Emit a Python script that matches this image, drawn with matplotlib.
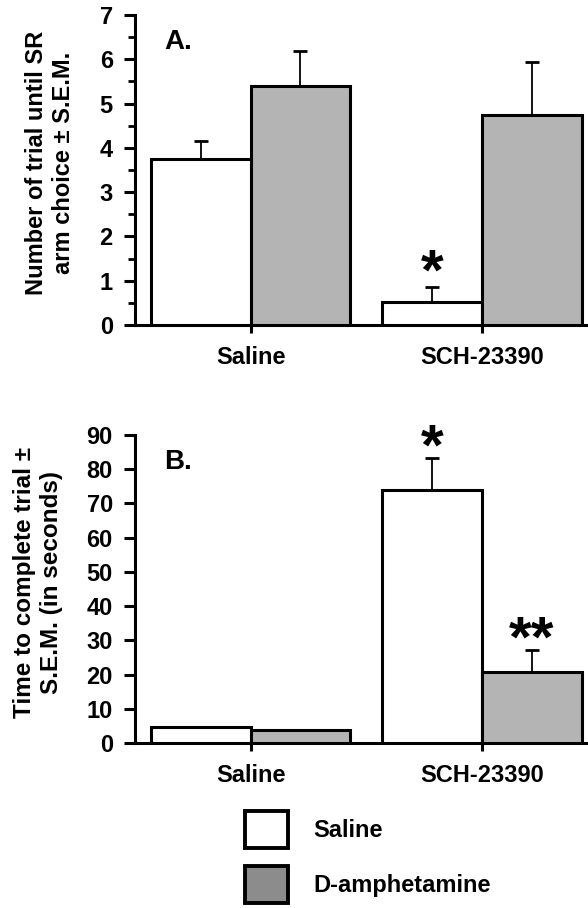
import numpy as np
import matplotlib
matplotlib.use("Agg")
import matplotlib.pyplot as plt
from matplotlib.patches import Patch

plt.rcParams['font.family'] = ['Liberation Sans', 'DejaVu Sans']
plt.rcParams['font.weight'] = 'bold'

groups = ["Saline", "SCH-23390"]
treatments = ["Saline", "D-amphetamine"]

# panel A: number of trials until SR arm choice
trials_mean = {"Saline": [3.75, 0.53], "D-amphetamine": [5.4, 4.75]}
trials_sem = {"Saline": [0.40, 0.33], "D-amphetamine": [0.78, 1.18]}
trials_stars = {"Saline": ["", "*"], "D-amphetamine": ["", ""]}

# panel B: time to complete trial (s)
time_mean = {"Saline": [4.8, 73.8], "D-amphetamine": [3.9, 20.7]}
time_sem = {"Saline": [0.0, 9.5], "D-amphetamine": [0.0, 6.5]}
time_stars = {"Saline": ["", "*"], "D-amphetamine": ["", "**"]}

colors = {"Saline": "white", "D-amphetamine": "#b4b4b4"}
legend_colors = {"Saline": "white", "D-amphetamine": "#8c8c8c"}

fig = plt.figure(figsize=(5.88, 9.08), dpi=100)
axA = fig.add_axes([135 / 588, 1 - 325 / 908, 453 / 588, 310 / 908])
axB = fig.add_axes([135 / 588, 1 - 743 / 908, 453 / 588, 308 / 908])

width = 0.432
x = np.arange(len(groups))


def draw_panel(ax, means, sems, stars, ymax, step, minor, star_gap):
    for k, t in enumerate(treatments):
        pos = x + (k - 0.5) * width
        ax.bar(pos, means[t], width, color=colors[t], edgecolor="black",
               linewidth=2.2, zorder=3)
        ax.errorbar(pos, means[t], yerr=[np.zeros(len(groups)), sems[t]],
                    fmt="none", ecolor="black", elinewidth=1.3, capsize=5,
                    capthick=2, zorder=2)
        for p, m, s, st in zip(pos, means[t], sems[t], stars[t]):
            if st:
                ax.text(p, m + s + star_gap, st, ha="center", va="center",
                        fontsize=42, fontweight="bold")
    ax.set_xlim(-0.5, 1.46)
    ax.set_ylim(0, ymax)
    ax.set_yticks(np.arange(0, ymax + step / 2, step))
    if minor:
        ax.set_yticks(np.arange(0, ymax, minor), minor=True)
    ax.set_xticks(x)
    ax.set_xticklabels(groups, fontsize=17, fontweight="bold")
    for s in ["top", "right"]:
        ax.spines[s].set_visible(False)
    for s in ["left", "bottom"]:
        ax.spines[s].set_linewidth(2.2)
    ax.tick_params(axis="y", which="major", length=8, width=2.2, pad=8,
                   labelsize=17)
    ax.tick_params(axis="y", which="minor", length=5, width=2)
    ax.tick_params(axis="x", length=6, width=2.2, pad=9)
    for lab in ax.get_yticklabels():
        lab.set_fontweight("bold")


draw_panel(axA, trials_mean, trials_sem, trials_stars, 7, 1, 0.5, 0.27)
draw_panel(axB, time_mean, time_sem, time_stars, 90, 10, None, 2.5)

fig.text(178 / 588, 1 - 42 / 908, "A.", fontsize=20, fontweight="bold",
         ha="center", va="center")
fig.text(178 / 588, 1 - 462 / 908, "B.", fontsize=20, fontweight="bold",
         ha="center", va="center")

fig.text(50 / 588, 1 - 163 / 908, "Number of trial until SR\narm choice \u00b1 S.E.M.",
         rotation=90, ha="center", va="center", fontsize=17,
         fontweight="bold", linespacing=1.25)
fig.text(38 / 588, 1 - 582 / 908, "Time to complete trial \u00b1\nS.E.M. (in seconds)",
         rotation=90, ha="center", va="center", fontsize=17.5,
         fontweight="bold", linespacing=1.25)

handles = [Patch(facecolor=legend_colors[t], edgecolor="black", linewidth=2.8)
           for t in treatments]
fig.legend(handles, treatments, loc="upper left",
           bbox_to_anchor=(233 / 588, 1 - 799 / 908), frameon=False,
           handlelength=1.85, handleheight=2.05,
           handletextpad=1.05, labelspacing=0.75, borderpad=0,
           prop={"weight": "bold", "size": 17})

fig.savefig("out.png", dpi=100)
